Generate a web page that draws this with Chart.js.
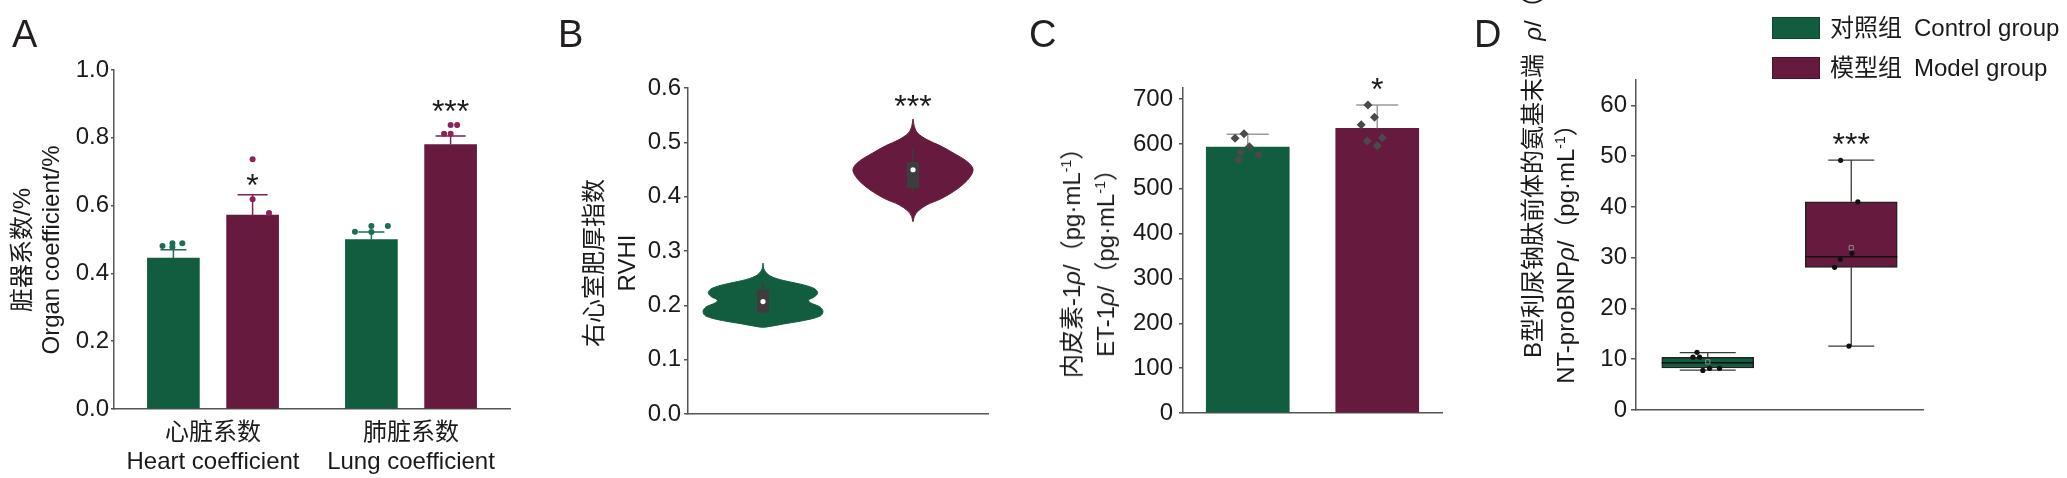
<!DOCTYPE html>
<html>
<head>
<meta charset="utf-8">
<script src="https://cdn.jsdelivr.net/npm/chart.js@4.4.0/dist/chart.umd.min.js"></script>
<style>
  body { margin: 0; background: #fff; width: 2067px; height: 478px; overflow: hidden; position: relative;
         font-family: "Liberation Sans", "Noto Sans CJK SC", sans-serif; color: #1a1a1a; }
  canvas { position: absolute; top: 0; }
  .letter { position: absolute; font-size: 38px; line-height: 38px; color: #231f20; }
  .vt { position: absolute; white-space: nowrap; font-size: 24px; text-align: center; transform-origin: 0 0; }
  .vt sup { font-size: 14px; vertical-align: 9px; line-height: 0; }
  .leg { position: absolute; left: 1772px; font-size: 24px; line-height: 24px; white-space: nowrap; }
  .leg span { display: inline-block; width: 46px; height: 20px; border: 1px solid rgba(0,0,0,0.25); vertical-align: top; margin-right: 10px; margin-top: 1px; }
</style>
</head>
<body>
<canvas id="cA" width="540" height="478" style="left:0px"></canvas>
<canvas id="cB" width="500" height="478" style="left:540px"></canvas>
<canvas id="cC" width="500" height="478" style="left:1040px"></canvas>
<canvas id="cD" width="527" height="478" style="left:1540px"></canvas>
<script>
// groups
const groupsZh = ['对照组', '模型组'];
const groupsEn = ['Control group', 'Model group'];

// A: organ coefficient (%)
const organCats = [['心脏系数', 'Heart coefficient'], ['肺脏系数', 'Lung coefficient']];
const organCtrlMean = [0.445, 0.500];
const organCtrlSd = [0.025, 0.022];
const organModelMean = [0.572, 0.780];
const organModelSd = [0.060, 0.025];
const organCtrlPtX = [-0.255, -0.205, -0.205, -0.155, 0.717, 0.8, 0.8, 0.883];
const organCtrlPtY = [0.481, 0.489, 0.478, 0.489, 0.523, 0.540, 0.522, 0.540];
const organModelPtX = [0.2, 0.2, 0.283, 1.167, 1.2, 1.2, 1.233];
const organModelPtY = [0.737, 0.619, 0.578, 0.812, 0.838, 0.812, 0.838];
const organSigX = [0.2, 1.2];
const organSigY = [0.68, 0.90];
const organSigText = ['*', '***'];

// B: RVHI violins (value, half width in category units)
const rvhiCtrlV = [0.2776, 0.265, 0.254, 0.2456, 0.239, 0.2315, 0.2235, 0.216, 0.21, 0.205, 0.1966, 0.1885, 0.1805, 0.172, 0.1658, 0.1608, 0.1597];
const rvhiCtrlW = [0, 0.009, 0.049, 0.138, 0.249, 0.338, 0.365, 0.345, 0.305, 0.315, 0.382, 0.400, 0.382, 0.271, 0.138, 0.038, 0];
const rvhiModelV = [0.543, 0.529, 0.517, 0.505, 0.4937, 0.480, 0.4648, 0.4508, 0.437, 0.4237, 0.4096, 0.3955, 0.385, 0.3727, 0.3635, 0.354];
const rvhiModelW = [0, 0.009, 0.031, 0.093, 0.182, 0.271, 0.36, 0.400, 0.382, 0.338, 0.271, 0.182, 0.093, 0.031, 0.009, 0];
const rvhiQ1 = [0.187, 0.4157];
const rvhiQ3 = [0.2297, 0.4637];
const rvhiLo = [0.187, 0.410];
const rvhiHi = [0.2408, 0.4876];
const rvhiMed = [0.2069, 0.4495];
const rvhiSigX = [1];
const rvhiSigY = [0.58];
const rvhiSigText = ['***'];

// C: ET-1 (pg/mL)
const et1Mean = [593, 635];
const et1Sd = [29, 52];
const et1PtX = [-0.098, -0.029, 0.013, -0.054, 0.083, -0.072, 0.928, 0.979, 0.876, 1.039, 0.923, 1.0];
const et1PtY = [613, 623, 594, 583, 576, 565, 687, 660, 643, 614, 607, 596];
const et1SigX = [1];
const et1SigY = [739];
const et1SigText = ['*'];

// D: NT-proBNP (pg/mL) box plots
const bnpMin = [7.87, 12.6];
const bnpQ1 = [8.27, 28.1];
const bnpMed = [9.3, 30.2];
const bnpQ3 = [10.38, 41.0];
const bnpMax = [11.3, 49.2];
const bnpMeanX = [0, 1.0];
const bnpMeanY = [9.5, 31.96];
const bnpPtX = [-0.075, -0.103, -0.057, -0.034, 0.013, 0.082, 0.926, 1.046, 1.005, 0.923, 0.884, 0.984];
const bnpPtY = [11.36, 10.4, 10.4, 7.8, 8.2, 8.2, 49.17, 41.02, 30.86, 29.68, 28.1, 12.6];
const bnpSigX = [1];
const bnpSigY = [53.8];
const bnpSigText = ['***'];

const GREEN = '#125d40';
const MAROON = '#661a3d';
const AXIS = '#555555';
const FONT = '"Liberation Sans", "Noto Sans CJK SC", sans-serif';
const PAIR_SHIFT = 0.2;   // control/model bars either side of a category centre in A

Chart.defaults.font.family = FONT;
Chart.defaults.color = '#1a1a1a';

const pts = (xs, ys) => xs.map((x, i) => ({x: x, y: ys[i]}));
const cats = n => Array.from({length: n}, (_, i) => i);

// error bars, box whiskers and significance marks
const extras = {
    id: 'extras',
    afterDatasetDraw(chart, args) {
        const ds = chart.data.datasets[args.index];
        const meta = args.meta;
        const y = chart.scales[meta.yAxisID];
        const ctx = chart.ctx;
        const cap = i => Array.isArray(ds.capHalf) ? ds.capHalf[i] : ds.capHalf;
        ctx.save();
        if (ds.errorBars) {
            ctx.lineWidth = 1.5;
            ctx.strokeStyle = ds.errColor;
            meta.data.forEach((bar, i) => {
                const top = y.getPixelForValue(ds.data[i].y + ds.errorBars[i]);
                ctx.beginPath();
                ctx.moveTo(bar.x, bar.y);
                ctx.lineTo(bar.x, top);
                ctx.moveTo(bar.x - cap(i), top);
                ctx.lineTo(bar.x + cap(i), top);
                ctx.stroke();
            });
        }
        if (ds.whisker) {
            const w = ds.whisker;
            meta.data.forEach((bar, i) => {
                const lo = y.getPixelForValue(w.min[i]);
                const hi = y.getPixelForValue(w.max[i]);
                const q1 = y.getPixelForValue(w.q1[i]);
                const q3 = y.getPixelForValue(w.q3[i]);
                const med = y.getPixelForValue(w.med[i]);
                ctx.strokeStyle = '#3a3a3a';
                ctx.lineWidth = 1.3;
                ctx.beginPath();
                ctx.moveTo(bar.x, q3); ctx.lineTo(bar.x, hi);
                ctx.moveTo(bar.x, q1); ctx.lineTo(bar.x, lo);
                ctx.moveTo(bar.x - cap(i), hi); ctx.lineTo(bar.x + cap(i), hi);
                ctx.moveTo(bar.x - cap(i), lo); ctx.lineTo(bar.x + cap(i), lo);
                ctx.stroke();
                ctx.strokeStyle = '#111';
                ctx.lineWidth = 1.6;
                ctx.beginPath();
                ctx.moveTo(bar.x - bar.width / 2, med);
                ctx.lineTo(bar.x + bar.width / 2, med);
                ctx.stroke();
            });
        }
        ctx.restore();
    },
    afterDraw(chart, args, opts) {
        if (!opts.text) return;
        const xs = chart.scales.x;
        const ys = chart.scales.y;
        const ctx = chart.ctx;
        ctx.save();
        ctx.fillStyle = '#1a1a1a';
        ctx.font = '32px ' + FONT;
        ctx.textAlign = 'center';
        ctx.textBaseline = 'alphabetic';
        opts.text.forEach((t, i) => {
            ctx.fillText(t, xs.getPixelForValue(opts.x[i]), ys.getPixelForValue(opts.y[i]) + 18);
        });
        ctx.restore();
    }
};

const tickFont = {size: 24};
const border = {display: true, color: AXIS, width: 1.5};
const base = {
    responsive: false,
    animation: false,
    events: []
};
const noLegend = {legend: {display: false}, tooltip: {enabled: false}};
const yAxis = (max, step, dec, tick, pad, width) => ({
    type: 'linear', min: 0, max: max,
    ticks: {stepSize: step, includeBounds: false, font: tickFont, padding: pad, callback: v => v.toFixed(dec)},
    grid: {drawOnChartArea: false, tickLength: tick, color: AXIS, lineWidth: 1.5},
    border: border,
    afterFit: s => { s.width = width; }
});
const xAxis = (height, labels) => ({
    type: 'linear', min: -0.5, max: 1.5, offset: false,
    grid: {display: false}, border: border,
    afterBuildTicks: s => { s.ticks = cats(2).map(v => ({value: v})); },
    ticks: labels
        ? {font: Object.assign({lineHeight: 1.2}, tickFont), padding: 2, callback: v => labels[v]}
        : {display: false},
    afterFit: s => { s.height = height; }
});

// A
new Chart(document.getElementById('cA'), {
    type: 'scatter',
    data: {
        datasets: [
            {type: 'bar', label: groupsZh[0], data: pts(cats(2).map(i => i - PAIR_SHIFT), organCtrlMean), backgroundColor: GREEN,
             errorBars: organCtrlSd, errColor: '#1f6d57', capHalf: 13, order: 2},
            {type: 'bar', label: groupsZh[1], data: pts(cats(2).map(i => i + PAIR_SHIFT), organModelMean), backgroundColor: MAROON,
             errorBars: organModelSd, errColor: '#7b2450', capHalf: 15, order: 2},
            {data: pts(organCtrlPtX, organCtrlPtY), pointRadius: 3, backgroundColor: '#1f6d57', borderWidth: 0, order: 1},
            {data: pts(organModelPtX, organModelPtY), pointRadius: 3, backgroundColor: '#8a2456', borderWidth: 0, order: 1}
        ]
    },
    options: Object.assign({}, base, {
        layout: {padding: {left: 0, right: 30, top: 70, bottom: 0}},
        datasets: {bar: {grouped: false, barThickness: 52}},
        plugins: Object.assign({extras: {text: organSigText, x: organSigX, y: organSigY}}, noLegend),
        scales: {x: xAxis(69, organCats), y: yAxis(1, 0.2, 1, 3, 2, 114)}
    }),
    plugins: [extras]
});

// B
const violin = (i, vs, ws) => {
    const right = vs.map((v, k) => ({x: i + ws[k], y: v}));
    const left = vs.slice(1, -1).reverse().map((v, k) => ({x: i - ws[ws.length - 2 - k], y: v}));
    return right.concat(left, [right[0]]);
};
const vlines = (lo, hi) => {
    const out = [];
    lo.forEach((l, i) => { out.push({x: i, y: l}, {x: i, y: hi[i]}, {x: i + 0.5, y: null}); });
    return out;
};
new Chart(document.getElementById('cB'), {
    type: 'scatter',
    data: {
        datasets: [
            {data: violin(0, rvhiCtrlV, rvhiCtrlW), showLine: true, fill: 'shape', tension: 0.35, backgroundColor: GREEN, borderColor: GREEN, borderWidth: 1, pointRadius: 0, order: 4},
            {data: violin(1, rvhiModelV, rvhiModelW), showLine: true, fill: 'shape', tension: 0.35, backgroundColor: MAROON, borderColor: MAROON, borderWidth: 1, pointRadius: 0, order: 4},
            {data: vlines(rvhiLo, rvhiHi), showLine: true, spanGaps: false, borderColor: '#3f3c3e', borderWidth: 1.5, pointRadius: 0, order: 3},
            {data: vlines(rvhiQ1, rvhiQ3), showLine: true, spanGaps: false, borderColor: '#3f3c3e', borderWidth: 12, borderCapStyle: 'butt', pointRadius: 0, order: 2},
            {data: pts(cats(2), rvhiMed), pointRadius: 2.6, backgroundColor: '#ffffff', borderWidth: 0, order: 1}
        ]
    },
    options: Object.assign({}, base, {
        layout: {padding: {left: 0, right: 52, top: 88, bottom: 0}},
        plugins: Object.assign({extras: {text: rvhiSigText, x: rvhiSigX, y: rvhiSigY}}, noLegend),
        scales: {x: xAxis(64, null), y: yAxis(0.6, 0.1, 1, 4, 3, 148)}
    }),
    plugins: [extras]
});

// C
new Chart(document.getElementById('cC'), {
    type: 'scatter',
    data: {
        datasets: [
            {type: 'bar', data: pts(cats(2), et1Mean), backgroundColor: [GREEN, MAROON], errorBars: et1Sd, errColor: '#9a9a9a', capHalf: 21, order: 2},
            {data: pts(et1PtX, et1PtY), pointStyle: 'rectRot', pointRadius: 4.5, backgroundColor: '#4a4a4a', borderWidth: 0, order: 1}
        ]
    },
    options: Object.assign({}, base, {
        layout: {padding: {left: 0, right: 98, top: 88, bottom: 0}},
        datasets: {bar: {grouped: false, barThickness: 83}},
        plugins: Object.assign({extras: {text: et1SigText, x: et1SigX, y: et1SigY}}, noLegend),
        scales: {x: xAxis(65, null), y: yAxis(725, 100, 0, 4, 6, 143)}
    }),
    plugins: [extras]
});

// D
new Chart(document.getElementById('cD'), {
    type: 'scatter',
    data: {
        datasets: [
            {type: 'bar', data: cats(2).map(i => ({x: i, y: [bnpQ1[i], bnpQ3[i]]})), backgroundColor: [GREEN, MAROON], borderColor: '#222', borderWidth: 1.5, borderSkipped: false,
             whisker: {min: bnpMin, q1: bnpQ1, med: bnpMed, q3: bnpQ3, max: bnpMax}, capHalf: [28, 23], order: 3},
            {data: pts(bnpMeanX, bnpMeanY), pointStyle: 'rect', pointRadius: 3, backgroundColor: 'rgba(0,0,0,0)', borderColor: '#8c8c8c', borderWidth: 1, order: 2},
            {data: pts(bnpPtX, bnpPtY), pointRadius: 2.6, backgroundColor: '#111', borderWidth: 0, order: 1}
        ]
    },
    options: Object.assign({}, base, {
        layout: {padding: {left: 0, right: 144, top: 80, bottom: 0}},
        datasets: {bar: {grouped: false, barThickness: 92}},
        plugins: Object.assign({extras: {text: bnpSigText, x: bnpSigX, y: bnpSigY}}, noLegend),
        scales: {x: xAxis(68, null), y: yAxis(65, 10, 0, 5, 4, 96)}
    }),
    plugins: [extras]
});

// panel letters, axis titles, legend (HTML text)
function addDiv(cls, html, css) {
    const d = document.createElement('div');
    d.className = cls;
    d.innerHTML = html;
    Object.assign(d.style, css);
    document.body.appendChild(d);
    return d;
}
[['A', 12], ['B', 558], ['C', 1029], ['D', 1474]].forEach(([t, x]) => addDiv('letter', t, {left: x + 'px', top: '15px'}));

function vCentered(html, cx, cy, lh) {
    addDiv('vt', html, {left: cx + 'px', top: cy + 'px', lineHeight: lh + 'px', transform: 'rotate(-90deg) translate(-50%, -50%)'});
}
const unit = '<i>ρ</i>/（pg·mL<sup>-1</sup>）';
vCentered('脏器系数/%<br>Organ coefficient/%', 36, 250, 29);
vCentered('右心室肥厚指数<br>RVHI', 610, 263, 33);
vCentered('内皮素-1' + unit + '<br>ET-1' + unit, 1089, 257, 34);
vCentered('NT-proBNP' + unit, 1566, 248, 30);
addDiv('vt', 'B型利尿钠肽前体的氨基末端&nbsp;&nbsp;' + unit, {left: '1533px', top: '358px', lineHeight: '30px', transform: 'rotate(-90deg) translateY(-50%)'});

[GREEN, MAROON].forEach((c, i) => {
    addDiv('leg', '<span style="background:' + c + '"></span>' + groupsZh[i] + '\u2002' + groupsEn[i], {top: (16 + i * 40) + 'px'});
});
</script>
</body>
</html>
